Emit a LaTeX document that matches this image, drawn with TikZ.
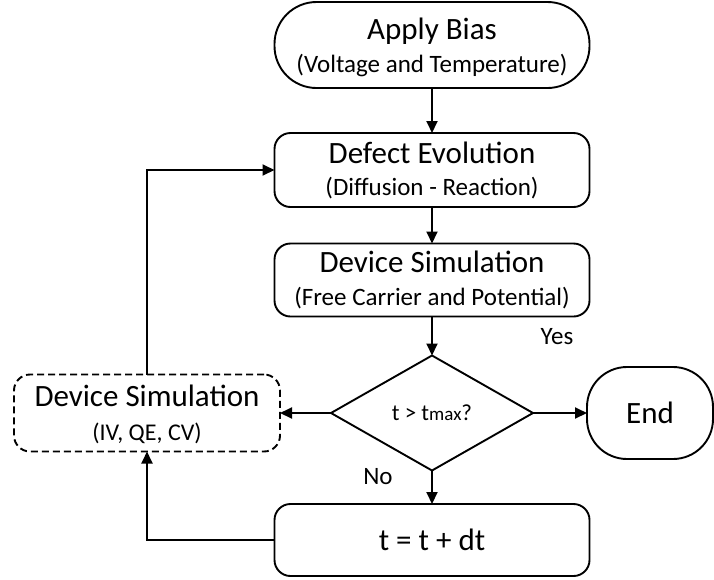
\documentclass[tikz,border=0pt]{standalone}
\usepackage{fontspec}
\setmainfont{Carlito}
\usetikzlibrary{shapes.geometric,arrows.meta}
\newcommand{\ttlsz}{\fontsize{31}{34}\selectfont}
\newcommand{\subsz}{\fontsize{25}{28}\selectfont}
\begin{document}
\begin{tikzpicture}[x=1pt,y=-1pt,
  every node/.style={inner sep=0pt,outer sep=0pt},
  boxbase/.style={draw,line width=1.9pt,align=center,font=\ttlsz},
  stadium/.style={boxbase,rectangle,rounded corners=42pt},
  procbox/.style={boxbase,rectangle,rounded corners=16pt,minimum width=315pt},
  decision/.style={boxbase,diamond,minimum width=202pt,minimum height=115pt,aspect=1.76,font=\fontsize{23}{26}\selectfont},
  arr/.style={line width=1.9pt,-{Triangle[length=12pt,width=11pt]}},
  lbl/.style={font=\fontsize{25}{28}\selectfont}
]
\useasboundingbox (0,0) rectangle (714,579);
\node[stadium,minimum width=315pt,minimum height=86pt] (bias) at (432,45)
  {\rule{0pt}{27pt}Apply Bias\\[-1pt]{\subsz (Voltage and Temperature)}};
\node[procbox,minimum height=74pt] (defect) at (432,170)
  {Defect Evolution\\[-2pt]{\subsz (Diffusion - Reaction)}};
\node[procbox,minimum height=73pt] (devsim) at (432,280)
  {Device Simulation\\[-1pt]{\subsz (Free Carrier and Potential)}};
\node[decision] (dec) at (432,413) {t > t{\fontsize{19}{22}\selectfont max}?};
\node[stadium,minimum width=126pt,minimum height=92pt,rounded corners=40pt] (end) at (650,413) {End};
\node[procbox,minimum width=266pt,minimum height=77pt,dash pattern=on 7pt off 4pt] (dsim) at (147,413)
  {\rule{0pt}{24pt}Device Simulation\\[0pt]{\fontsize{24}{27}\selectfont (IV, QE, CV)}};
\node[procbox,minimum height=72pt] (tbox) at (432,540) {t = t + dt};
\node[lbl] (yes) at (557,337) {Yes};
\node[lbl] (no) at (378,477) {No};
\draw[arr] (bias) -- (defect);
\draw[arr] (defect) -- (devsim);
\draw[arr] (devsim) -- (dec);
\draw[arr] (dec) -- (end);
\draw[arr] (dec) -- (dsim);
\draw[arr] (dec) -- (tbox);
\draw[arr] (tbox.west) -| (dsim.south);
\draw[arr] (dsim.north) |- (defect.west);
\end{tikzpicture}
\end{document}
